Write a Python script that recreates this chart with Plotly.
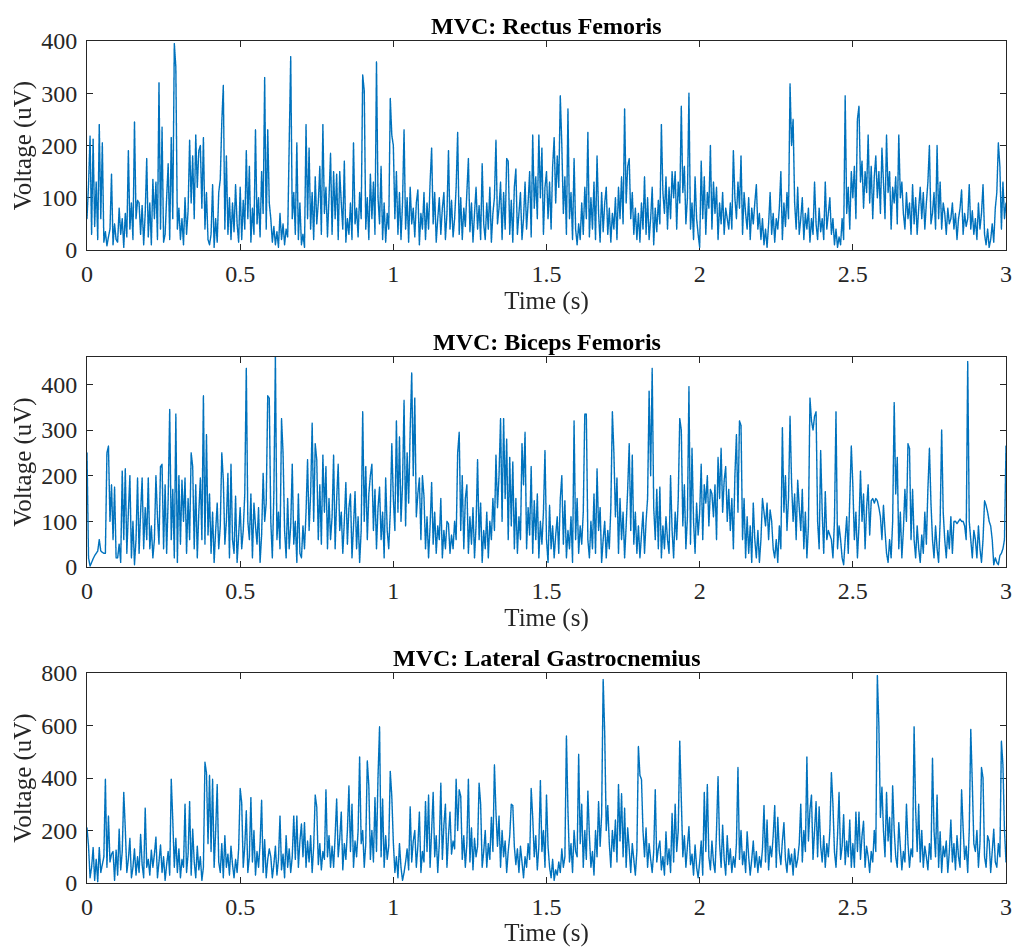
import plotly.graph_objects as go

# Sampling: 200 Hz over 3 s (one row below = 0.1 s = 20 samples)
FS = 200
DURATION = 3.0

titles = ["MVC: Rectus Femoris", "MVC: Biceps Femoris", "MVC: Lateral Gastrocnemius"]
y_max = [400, 460, 800]
y_ticks = [[0, 100, 200, 300, 400], [0, 100, 200, 300, 400], [0, 200, 400, 600, 800]]
x_ticks = [0, 0.5, 1, 1.5, 2, 2.5, 3]
x_ticktext = ["0", "0.5", "1", "1.5", "2", "2.5", "3"]

rectus_femoris = [
    60, 125, 218, 30, 212, 45, 130, 20, 240, 60, 205, 15, 35, 8, 25, 40, 145, 10, 50, 20,
    15, 80, 30, 60, 5, 70, 25, 190, 40, 90, 20, 245, 60, 95, 90, 30, 85, 10, 70, 175,
    25, 90, 10, 135, 60, 130, 20, 320, 40, 235, 15, 30, 100, 165, 20, 215, 60, 395, 350, 40,
    80, 20, 60, 10, 100, 30, 75, 210, 90, 180, 60, 220, 120, 190, 200, 80, 215, 40, 110, 20,
    10, 30, 125, 5, 60, 15, 110, 135, 245, 315, 40, 180, 30, 100, 20, 90, 35, 125, 50, 15,
    120, 20, 95, 40, 190, 60, 160, 15, 80, 30, 230, 50, 100, 25, 150, 70, 330, 40, 230, 90,
    60, 15, 45, 10, 35, 5, 70, 20, 50, 10, 40, 25, 200, 370, 60, 110, 30, 205, 20, 90,
    10, 30, 5, 240, 60, 195, 40, 110, 20, 140, 50, 90, 160, 30, 240, 70, 120, 25, 100, 185,
    30, 150, 60, 145, 20, 150, 90, 40, 170, 15, 60, 30, 90, 20, 205, 50, 80, 25, 110, 60,
    335, 305, 40, 100, 20, 145, 60, 130, 30, 360, 100, 50, 160, 20, 90, 15, 70, 40, 290, 220,
    200, 60, 150, 30, 110, 20, 90, 230, 40, 100, 15, 120, 50, 80, 25, 90, 115, 10, 70, 40,
    110, 20, 90, 40, 130, 195, 50, 110, 15, 60, 100, 30, 80, 110, 20, 70, 190, 40, 95, 25,
    60, 120, 225, 30, 100, 20, 80, 45, 110, 175, 35, 90, 15, 70, 120, 40, 85, 20, 165, 50,
    20, 90, 40, 120, 15, 70, 100, 210, 50, 80, 130, 20, 110, 40, 175, 170, 30, 95, 15, 120,
    155, 30, 70, 110, 20, 60, 130, 40, 90, 150, 25, 220, 80, 140, 60, 220, 100, 195, 30, 120,
    150, 60, 130, 40, 160, 215, 90, 180, 120, 295, 200, 70, 140, 30, 270, 60, 110, 20, 175, 40,
    10, 50, 20, 90, 30, 120, 60, 225, 25, 100, 40, 130, 20, 180, 70, 15, 110, 35, 90, 120,
    30, 80, 15, 70, 40, 100, 20, 120, 60, 140, 50, 270, 90, 160, 175, 60, 110, 30, 80, 20,
    70, 15, 90, 40, 140, 30, 100, 20, 60, 120, 10, 80, 35, 95, 50, 240, 110, 70, 140, 40,
    120, 60, 150, 100, 150, 40, 130, 90, 275, 110, 160, 50, 100, 300, 40, 90, 20, 140, 60, 30,
    5, 170, 60, 140, 30, 110, 80, 200, 40, 130, 70, 120, 20, 90, 50, 110, 30, 80, 60, 40,
    90, 40, 190, 100, 60, 130, 80, 180, 30, 110, 70, 40, 100, 20, 80, 50, 90, 125, 40, 70,
    20, 60, 10, 40, 5, 50, 110, 30, 70, 15, 60, 40, 80, 150, 20, 90, 45, 110, 60, 318,
    200, 250, 90, 40, 120, 30, 60, 100, 20, 70, 40, 80, 15, 60, 30, 130, 50, 20, 80, 35,
    60, 20, 130, 40, 70, 100, 30, 60, 10, 40, 5, 25, 10, 60, 20, 295, 70, 120, 40, 150,
    100, 160, 60, 250, 275, 130, 170, 80, 150, 110, 220, 90, 160, 60, 140, 180, 100, 150, 70, 195,
    130, 60, 220, 110, 150, 40, 120, 90, 140, 50, 220, 100, 130, 70, 40, 110, 60, 90, 30, 125,
    50, 100, 30, 80, 120, 60, 110, 40, 90, 130, 200, 50, 70, 110, 40, 200, 60, 130, 40, 90,
    70, 30, 80, 50, 60, 90, 40, 70, 20, 60, 80, 115, 30, 70, 45, 60, 125, 40, 75, 30,
    60, 20, 90, 40, 70, 125, 30, 10, 40, 5, 20, 50, 15, 80, 110, 205, 160, 40, 130, 60,
    90,
]

biceps_femoris = [
    250, 20, 2, 10, 18, 25, 30, 35, 60, 35, 32, 30, 30, 250, 265, 100, 180, 60, 175, 20,
    20, 50, 10, 210, 60, 215, 30, 120, 200, 20, 100, 5, 60, 195, 30, 120, 195, 40, 130, 60,
    195, 40, 90, 20, 60, 200, 110, 50, 220, 225, 40, 180, 30, 150, 345, 60, 170, 20, 335, 10,
    200, 50, 190, 100, 195, 30, 150, 60, 250, 220, 40, 180, 20, 120, 195, 60, 375, 50, 290, 70,
    160, 30, 120, 10, 80, 140, 40, 90, 250, 190, 50, 100, 205, 20, 225, 60, 30, 155, 10, 70,
    130, 40, 80, 160, 435, 100, 60, 160, 20, 140, 90, 50, 130, 10, 70, 205, 100, 140, 375, 370,
    100, 20, 160, 460, 60, 120, 40, 325, 250, 80, 20, 150, 40, 90, 225, 50, 100, 10, 160, 30,
    20, 90, 40, 120, 235, 80, 160, 315, 100, 270, 235, 60, 180, 50, 245, 120, 220, 40, 150, 60,
    110, 245, 40, 150, 225, 80, 120, 30, 100, 185, 50, 130, 160, 20, 90, 165, 40, 110, 10, 80,
    340, 100, 220, 60, 160, 200, 225, 80, 170, 40, 130, 175, 60, 120, 20, 195, 80, 40, 120, 270,
    150, 80, 320, 120, 285, 100, 180, 365, 90, 250, 140, 300, 425, 200, 370, 110, 160, 195, 60, 200,
    155, 40, 110, 20, 90, 185, 50, 120, 30, 90, 60, 150, 20, 80, 40, 100, 95, 30, 70, 40,
    100, 60, 250, 295, 80, 200, 40, 150, 180, 30, 110, 50, 130, 20, 90, 235, 60, 140, 10, 80,
    40, 120, 20, 100, 60, 150, 80, 245, 130, 200, 325, 100, 325, 150, 280, 60, 240, 90, 230, 40,
    150, 30, 110, 60, 270, 180, 295, 40, 130, 70, 220, 30, 145, 60, 160, 20, 100, 50, 120, 255,
    60, 10, 135, 40, 90, 20, 70, 110, 30, 150, 200, 50, 145, 20, 80, 40, 110, 10, 320, 60,
    150, 30, 90, 50, 120, 335, 335, 60, 20, 100, 40, 160, 30, 215, 80, 130, 10, 60, 100, 20,
    80, 40, 130, 340, 250, 110, 195, 30, 150, 60, 120, 20, 90, 170, 270, 80, 245, 50, 120, 30,
    90, 20, 70, 120, 30, 100, 150, 385, 200, 435, 130, 60, 170, 40, 175, 20, 90, 40, 110, 60,
    30, 200, 80, 20, 120, 60, 150, 325, 300, 90, 180, 40, 110, 395, 50, 260, 100, 30, 140, 70,
    120, 225, 60, 180, 140, 200, 90, 170, 160, 110, 180, 60, 240, 150, 260, 120, 190, 220, 100, 170,
    80, 150, 40, 200, 290, 120, 320, 310, 60, 150, 20, 110, 30, 90, 10, 140, 60, 20, 80, 10,
    60, 150, 120, 90, 140, 60, 125, 100, 40, 20, 60, 10, 90, 40, 305, 120, 200, 80, 150, 330,
    185, 100, 160, 60, 190, 130, 80, 170, 40, 120, 20, 90, 370, 320, 300, 330, 340, 100, 40, 255,
    120, 30, 165, 60, 80, 70, 60, 20, 100, 340, 40, 90, 60, 20, 5, 60, 110, 30, 150, 265,
    180, 60, 120, 20, 90, 210, 100, 160, 40, 130, 180, 70, 145, 150, 140, 150, 145, 130, 110, 60,
    135, 80, 30, 10, 60, 20, 100, 360, 160, 240, 40, 120, 20, 80, 170, 100, 270, 260, 60, 170,
    60, 20, 90, 40, 10, 70, 30, 120, 50, 170, 260, 140, 60, 20, 90, 40, 10, 100, 300, 120,
    60, 20, 80, 40, 110, 30, 100, 100, 95, 100, 105, 100, 100, 90, 60, 450, 100, 60, 20, 80,
    60, 20, 90, 40, 10, 60, 145, 135, 120, 100, 90, 60, 5, 20, 10, 5, 25, 30, 40, 60,
    265,
]

lateral_gastrocnemius = [
    210, 140, 20, 60, 135, 10, 90, 5, 135, 40, 70, 100, 395, 60, 255, 80, 110, 120, 10, 125,
    30, 205, 50, 120, 345, 205, 40, 90, 170, 20, 60, 130, 30, 100, 40, 185, 70, 20, 285, 60,
    90, 30, 125, 60, 110, 175, 20, 80, 145, 40, 100, 10, 70, 120, 30, 395, 240, 60, 170, 40,
    130, 20, 90, 60, 300, 40, 110, 310, 30, 205, 80, 20, 140, 50, 100, 10, 60, 460, 420, 150,
    410, 120, 395, 60, 200, 375, 80, 40, 150, 20, 180, 60, 110, 30, 140, 70, 20, 90, 40, 130,
    360, 305, 60, 140, 275, 40, 100, 325, 80, 200, 30, 120, 60, 150, 315, 40, 165, 20, 90, 130,
    100, 20, 70, 140, 30, 90, 255, 50, 110, 20, 180, 60, 130, 40, 100, 255, 90, 255, 60, 160,
    225, 100, 230, 60, 160, 80, 180, 40, 140, 335, 290, 70, 150, 50, 120, 90, 355, 100, 180, 60,
    140, 60, 180, 320, 100, 170, 270, 50, 150, 90, 200, 370, 120, 300, 60, 160, 100, 200, 480, 150,
    200, 60, 150, 465, 370, 90, 200, 80, 325, 120, 405, 595, 100, 320, 60, 180, 90, 140, 425, 330,
    155, 40, 100, 20, 150, 60, 10, 40, 80, 130, 50, 290, 80, 160, 200, 60, 140, 270, 40, 120,
    80, 310, 120, 335, 60, 200, 345, 100, 180, 40, 150, 380, 90, 220, 300, 60, 180, 270, 110, 160,
    130, 395, 200, 355, 330, 90, 180, 60, 150, 395, 80, 210, 50, 170, 100, 140, 380, 300, 60, 120,
    200, 60, 150, 90, 250, 120, 450, 270, 140, 255, 60, 200, 100, 160, 40, 120, 180, 300, 295, 140,
    70, 130, 40, 140, 80, 20, 100, 60, 150, 90, 360, 250, 100, 180, 50, 140, 390, 120, 200, 60,
    335, 140, 60, 20, 90, 10, 50, 30, 80, 40, 130, 60, 100, 560, 275, 80, 150, 40, 200, 120,
    100, 490, 150, 300, 60, 200, 90, 350, 180, 60, 120, 30, 200, 100, 310, 140, 260, 775, 570, 200,
    295, 150, 60, 200, 120, 240, 80, 375, 160, 340, 100, 285, 60, 210, 130, 40, 150, 90, 30, 120,
    520, 410, 395, 200, 100, 210, 60, 150, 90, 40, 120, 355, 80, 130, 160, 50, 100, 30, 195, 70,
    130, 40, 265, 80, 300, 120, 200, 540, 320, 100, 180, 60, 140, 215, 70, 110, 30, 145, 60, 20,
    80, 160, 30, 345, 120, 375, 100, 50, 160, 80, 40, 200, 405, 150, 60, 220, 90, 30, 180, 70,
    130, 40, 100, 60, 150, 440, 90, 200, 70, 120, 40, 195, 100, 30, 90, 160, 60, 120, 40, 100,
    60, 130, 295, 80, 240, 50, 140, 100, 180, 295, 60, 250, 120, 70, 160, 230, 90, 40, 130, 70,
    110, 30, 130, 60, 90, 150, 300, 80, 200, 120, 480, 160, 280, 335, 90, 200, 310, 100, 290, 140,
    80, 180, 60, 150, 100, 200, 420, 300, 120, 60, 180, 345, 90, 140, 260, 70, 160, 100, 240, 60,
    150, 60, 270, 120, 270, 90, 180, 235, 60, 140, 100, 40, 120, 80, 200, 120, 790, 600, 250, 365,
    200, 100, 345, 160, 250, 80, 370, 200, 100, 60, 230, 140, 50, 120, 80, 300, 150, 60, 130, 100,
    595, 280, 120, 300, 80, 200, 60, 140, 100, 50, 150, 90, 475, 200, 100, 335, 60, 195, 40, 140,
    100, 160, 40, 120, 240, 80, 150, 50, 180, 100, 60, 355, 210, 90, 140, 40, 200, 585, 380, 150,
    120, 200, 60, 150, 440, 400, 100, 60, 180, 160, 40, 120, 205, 80, 60, 150, 100, 540, 450, 200,
    80,
]

series = [rectus_femoris, biceps_femoris, lateral_gastrocnemius]

# layout in pixels
W, H = 1017, 947
L, R, T, B = 87, 11, 41, 64
panels_px = [(41, 250), (357, 567), (673, 883)]
plot_h = H - T - B

FONT = "Liberation Serif, Times New Roman, serif"
AX_COLOR = "#262626"
LINE_COLOR = "#0072BD"

fig = go.Figure()
annotations = []
for k, vals in enumerate(series):
    t = [i / FS for i in range(len(vals))]
    xa = "x" if k == 0 else f"x{k+1}"
    ya = "y" if k == 0 else f"y{k+1}"
    fig.add_trace(go.Scattergl(x=t, y=vals, mode="lines", xaxis=xa, yaxis=ya,
                               line=dict(color=LINE_COLOR, width=1.4), showlegend=False,
                               hoverinfo="skip"))
    top, bot = panels_px[k]
    d0 = (H - B - bot) / plot_h
    d1 = (H - B - top) / plot_h
    xkey = "xaxis" if k == 0 else f"xaxis{k+1}"
    ykey = "yaxis" if k == 0 else f"yaxis{k+1}"
    fig.layout[xkey] = dict(
        domain=[0, 1], anchor=ya, range=[0, DURATION],
        tickvals=x_ticks, ticktext=x_ticktext,
        ticks="inside", ticklen=6, tickcolor=AX_COLOR, mirror="ticks",
        showline=True, linecolor=AX_COLOR, linewidth=1, showgrid=False, zeroline=False,
        tickfont=dict(family=FONT, size=24, color=AX_COLOR), ticklabelstandoff=2,
        title=dict(text="Time (s)", font=dict(family=FONT, size=25, color=AX_COLOR), standoff=0),
    )
    fig.layout[ykey] = dict(
        domain=[d0, d1], anchor=xa, range=[0, y_max[k]],
        tickvals=y_ticks[k],
        ticks="inside", ticklen=6, tickcolor=AX_COLOR, mirror="ticks",
        showline=True, linecolor=AX_COLOR, linewidth=1, showgrid=False, zeroline=False,
        tickfont=dict(family=FONT, size=24, color=AX_COLOR), ticklabelstandoff=4,
        title=dict(text="Voltage (uV)", font=dict(family=FONT, size=25, color=AX_COLOR), standoff=2),
    )
    annotations.append(dict(
        text=f"<b>{titles[k]}</b>", x=0.5, xref="paper", y=d1, yref="paper",
        xanchor="center", yanchor="bottom", yshift=0, showarrow=False,
        font=dict(family=FONT, size=24, color="#000000"),
    ))

fig.update_layout(
    width=W, height=H,
    margin=dict(l=L, r=R, t=T, b=B, autoexpand=False),
    paper_bgcolor="white", plot_bgcolor="white",
    annotations=annotations,
)

fig.write_html("out.html")
